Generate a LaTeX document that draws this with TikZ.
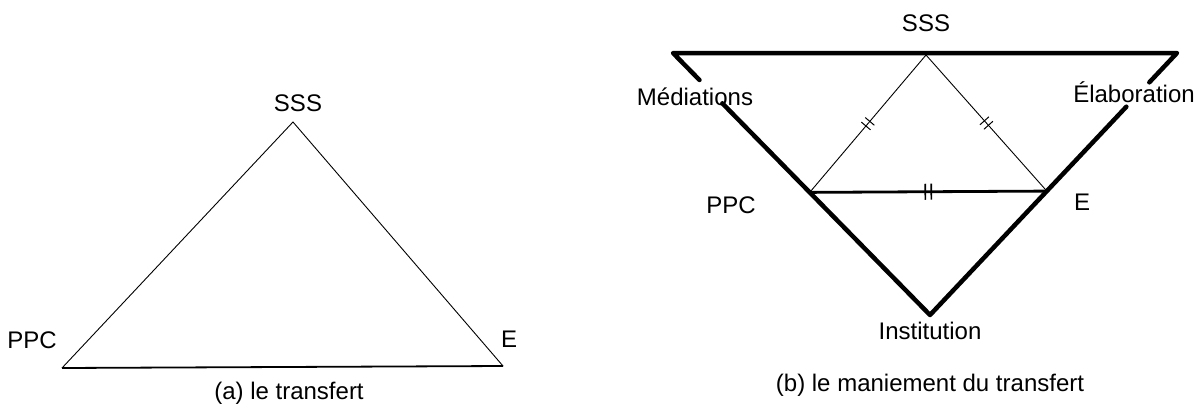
\documentclass[tikz,border=0pt]{standalone}
\usepackage{fontspec}
\setmainfont{Liberation Sans}
\usetikzlibrary{calc,decorations.markings}
\tikzset{
  lbl/.style={anchor=base, inner sep=0pt, font=\fontsize{24}{28}\selectfont},
  thinside/.style={line width=0.9pt},
  heavy/.style={line width=4.5pt, line cap=round, line join=round},
  midline/.style={line width=2.8pt},
  twoticks/.style 2 args={postaction={decorate, decoration={markings,
      mark=at position 0.5 with {\draw[line width=#1] (-3pt,-#2)--(-3pt,#2) (3pt,-#2)--(3pt,#2);}}}},
}
\begin{document}
\begin{tikzpicture}[x=1pt,y=-1pt]
\useasboundingbox (0,0) rectangle (1203,405);
% ---------- (a) ----------
\coordinate (aS) at (293,122);
\coordinate (aP) at (62,368);
\coordinate (aE) at (503,366);
\draw[thinside] (aP) -- (aS) -- (aE);
\draw[line width=1.8pt] (aP) -- (aE);
\node[lbl] (aSSS) at (298,111) {SSS};
\node[lbl] (aPPC) at (32,348) {PPC};
\node[lbl] (aElab) at (509,347) {E};
\node[lbl] (acap) at (289,399) {(a) le transfert};
% ---------- (b) ----------
\coordinate (TL) at (673,53);
\coordinate (TR) at (1177,53);
\coordinate (Inst) at (930,315);
\coordinate (bS) at (926,55);
\coordinate (bP) at ($(TL)!0.532!(Inst)$);
\coordinate (bE) at ($(TR)!0.527!(Inst)$);
\coordinate (m1) at ($(TL)!0.103!(Inst)$);
\coordinate (m2) at ($(TL)!0.192!(Inst)$);
\coordinate (e1) at ($(TR)!0.112!(Inst)$);
\coordinate (e2) at ($(TR)!0.205!(Inst)$);
\draw[heavy] (m1) -- (TL) -- (TR) -- (e1);
\draw[heavy] (m2) -- (bP) -- (Inst) -- (bE) -- (e2);
\draw[thinside, twoticks={1pt}{6pt}] (bS) -- (bP);
\draw[thinside, twoticks={1pt}{6pt}] (bS) -- (bE);
\draw[midline, twoticks={1.6pt}{8pt}] (bP) -- (bE);
\node[lbl] (bSSS) at (926,31) {SSS};
\node[lbl] (bMed) at (695,105) {Médiations};
\node[lbl] (bElab) at (1134,102) {Élaboration};
\node[lbl] (bPPC) at (731,213) {PPC};
\node[lbl] (bEE) at (1082,210) {E};
\node[lbl] (bInst) at (930,339) {Institution};
\node[lbl] (bcap) at (930,391) {(b) le maniement du transfert};
\end{tikzpicture}
\end{document}
